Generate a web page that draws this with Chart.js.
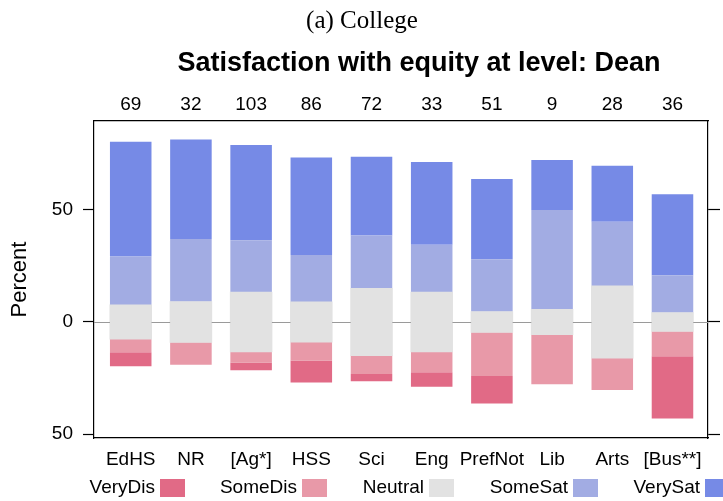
<!DOCTYPE html>
<html>
<head>
<meta charset="utf-8">
<script src="https://cdn.jsdelivr.net/npm/chart.js@4"></script>
<style>
  body { margin: 0; background: #fff; }
</style>
</head>
<body>
<canvas id="myChart" width="723" height="501"></canvas>
<script>
// colleges and the number of answers for each
var colleges = ['EdHS', 'NR', '[Ag*]', 'HSS', 'Sci', 'Eng', 'PrefNot', 'Lib', 'Arts', '[Bus**]'];
var counts = [69, 32, 103, 86, 72, 33, 51, 9, 28, 36];

// percent of answers in each level
var veryDis = [6.2, 0, 3.4, 9.8, 3.2, 6.5, 12.2, 0, 0, 27.8];
var someDis = [5.9, 10.0, 4.8, 8.2, 8.3, 9.1, 19.5, 22.2, 14.3, 11.1];
var neutral = [15.2, 18.0, 26.5, 17.9, 29.8, 26.5, 9.2, 11.1, 32.1, 8.3];
var someSat = [21.6, 28.0, 23.2, 20.9, 23.6, 21.2, 23.4, 44.4, 28.6, 16.7];
var verySat = [51.1, 44.3, 42.4, 43.5, 35.1, 36.9, 35.7, 22.2, 25.0, 36.1];

var levels = ['VeryDis', 'SomeDis', 'Neutral', 'SomeSat', 'VerySat'];
var colors = ['#e16a86', '#e899a8', '#e2e2e2', '#a2ace3', '#768ae6'];

var yTicks = [-50, 0, 50];

function pts(arr, sign) {
    return arr.map(function(v, i) { return {x: i, y: sign * v}; });
}

function ds(label, data, color) {
    return {
        label: label,
        data: data,
        backgroundColor: color,
        borderWidth: 0,
        barPercentage: 0.69,
        categoryPercentage: 1.0
    };
}

// neutral split in two halves around zero
var halfNeutral = neutral.map(function(v) { return v / 2; });

var neutralLow = ds('Neutral', pts(halfNeutral, -1), colors[2]);
var neutralHigh = ds('Neutral', pts(halfNeutral, 1), colors[2]);
// close the hairline seam where the halves meet at zero
neutralLow.inflateAmount = 0.5;
neutralHigh.inflateAmount = 0.5;

var datasets = [
    neutralLow,
    neutralHigh,
    ds('SomeDis', pts(someDis, -1), colors[1]),
    ds('VeryDis', pts(veryDis, -1), colors[0]),
    ds('SomeSat', pts(someSat, 1), colors[3]),
    ds('VerySat', pts(verySat, 1), colors[4])
];

var sans = "'Liberation Sans', Arial, sans-serif";

// zero reference line, only in the gaps between bars
var zeroLine = {
    id: 'zeroLine',
    afterDatasetsDraw: function(chart) {
        var c = chart.ctx;
        var area = chart.chartArea;
        var y0 = Math.round(chart.scales.y.getPixelForValue(0)) + 0.5;
        var bars = chart.getDatasetMeta(0).data;
        var x = area.left;
        c.save();
        c.strokeStyle = '#9a9a9a';
        c.lineWidth = 1;
        c.beginPath();
        bars.forEach(function(b) {
            c.moveTo(x, y0);
            c.lineTo(b.x - b.width / 2, y0);
            x = b.x + b.width / 2;
        });
        c.moveTo(x, y0);
        c.lineTo(area.right, y0);
        c.stroke();
        c.restore();
    }
};

var titles = {
    id: 'titles',
    afterDraw: function(chart) {
        var c = chart.ctx;
        c.save();
        c.fillStyle = '#000';
        c.textAlign = 'center';
        c.textBaseline = 'middle';
        c.font = "25px 'Liberation Serif', serif";
        c.fillText('(a) College', 362, 21);
        c.font = "bold 27px " + sans;
        c.fillText('Satisfaction with equity at level: Dean', 419, 64);

        // legend: text then box
        var boxX = [160, 302, 429, 573, 705];
        c.font = "19px " + sans;
        c.textAlign = 'right';
        for (var i = 0; i < levels.length; i++) {
            c.fillStyle = '#000';
            c.fillText(levels[i], boxX[i] - 5, 488);
            c.fillStyle = colors[i];
            c.fillRect(boxX[i], 479, 25, 18);
        }
        c.restore();
    }
};

var ctx = document.getElementById('myChart').getContext('2d');
var myChart = new Chart(ctx, {
    type: 'bar',
    data: { datasets: datasets },
    plugins: [zeroLine, titles],
    options: {
        responsive: false,
        devicePixelRatio: 1,
        animation: false,
        layout: { padding: 0 },
        plugins: {
            legend: { display: false },
            tooltip: { enabled: false }
        },
        scales: {
            x: {
                type: 'linear',
                position: 'bottom',
                stacked: true,
                offset: false,
                min: -0.61,
                max: 9.59,
                afterFit: function(s) { s.height = 63; },
                afterBuildTicks: function(s) {
                    s.ticks = colleges.map(function(c, i) { return {value: i}; });
                },
                grid: { display: false },
                border: { display: true, color: '#000', width: 1.2 },
                ticks: {
                    padding: 2,
                    maxRotation: 0,
                    autoSkip: false,
                    color: '#000',
                    font: { size: 19, family: sans },
                    callback: function(v, i) { return colleges[i]; }
                }
            },
            xTop: {
                type: 'linear',
                position: 'top',
                offset: false,
                min: -0.61,
                max: 9.59,
                afterFit: function(s) { s.height = 121; },
                afterBuildTicks: function(s) {
                    s.ticks = counts.map(function(c, i) { return {value: i}; });
                },
                grid: { display: false },
                border: { display: true, color: '#000', width: 1.2 },
                ticks: {
                    padding: -3,
                    maxRotation: 0,
                    autoSkip: false,
                    color: '#000',
                    font: { size: 19, family: sans },
                    callback: function(v, i) { return String(counts[i]); }
                }
            },
            y: {
                type: 'linear',
                position: 'left',
                stacked: true,
                min: -51.7,
                max: 89.58,
                afterFit: function(s) { s.width = 94; },
                afterBuildTicks: function(s) {
                    s.ticks = yTicks.map(function(v) { return {value: v}; });
                },
                grid: {
                    drawOnChartArea: false,
                    tickLength: 11,
                    tickColor: '#000',
                    tickWidth: 1.2
                },
                border: { display: true, color: '#000', width: 1.2 },
                title: {
                    display: true,
                    text: 'Percent',
                    color: '#000',
                    font: { size: 22, family: sans },
                    padding: { top: 7, bottom: 0 }
                },
                ticks: {
                    padding: 10,
                    color: '#000',
                    font: { size: 19, family: sans },
                    callback: function(v) { return String(Math.abs(v)); }
                }
            },
            yRight: {
                type: 'linear',
                position: 'right',
                min: -51.7,
                max: 89.58,
                afterFit: function(s) { s.width = 15; },
                afterBuildTicks: function(s) {
                    s.ticks = yTicks.map(function(v) { return {value: v}; });
                },
                grid: {
                    drawOnChartArea: false,
                    tickLength: 12,
                    tickColor: '#000',
                    tickWidth: 1.2
                },
                border: { display: true, color: '#000', width: 1.2 },
                ticks: {
                    padding: 0,
                    callback: function() { return ''; }
                }
            }
        }
    }
});
</script>
</body>
</html>
